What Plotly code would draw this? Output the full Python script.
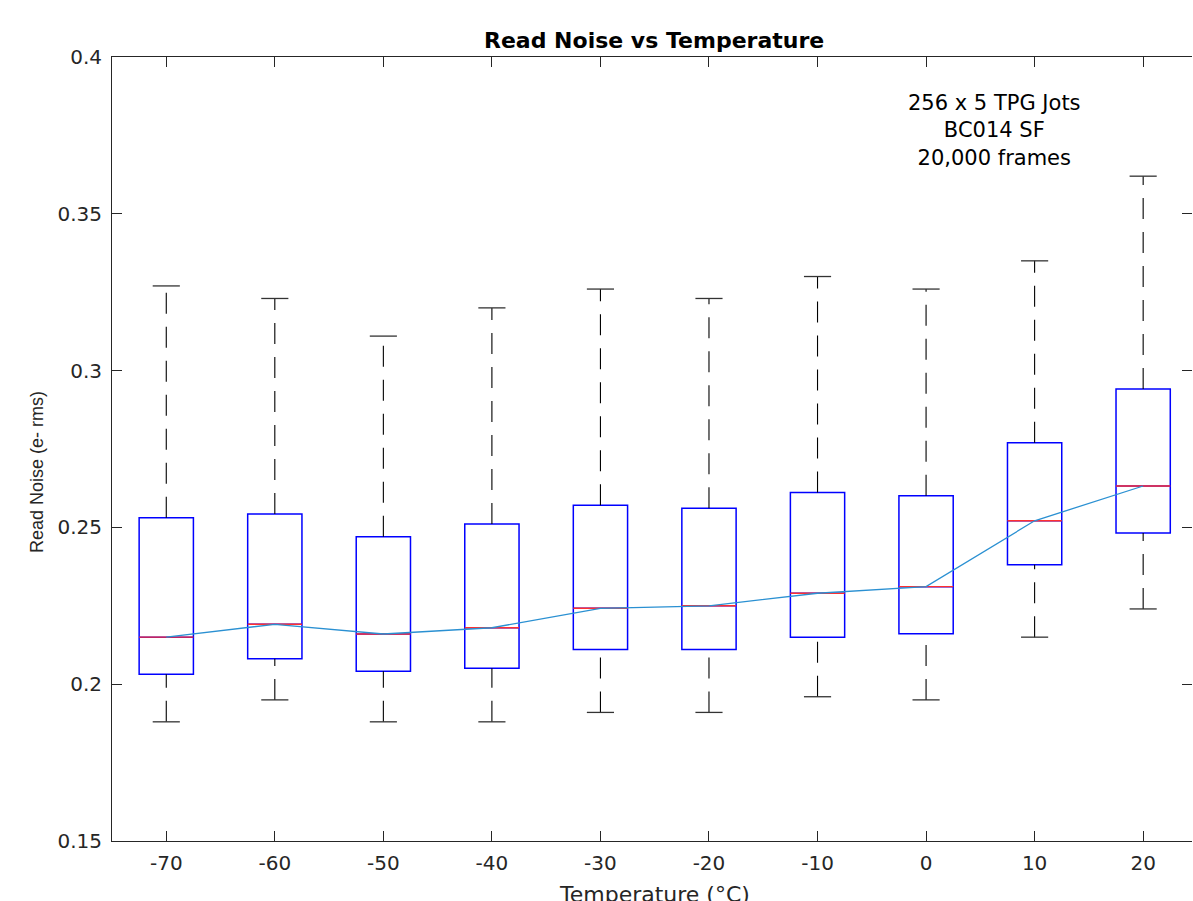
import plotly.graph_objects as go

# ---- data ----
temps = [-70, -60, -50, -40, -30, -20, -10, 0, 10, 20]
lower = [0.188, 0.195, 0.188, 0.188, 0.191, 0.191, 0.196, 0.195, 0.215, 0.224]
q1 = [0.2032, 0.2081, 0.2041, 0.2051, 0.2111, 0.2111, 0.2150, 0.2161, 0.2381, 0.2482]
median = [0.2150, 0.2191, 0.2160, 0.2180, 0.2242, 0.2250, 0.2290, 0.2311, 0.2521, 0.2632]
q3 = [0.2531, 0.2543, 0.2470, 0.2511, 0.2571, 0.2561, 0.2611, 0.2601, 0.2770, 0.2941]
upper = [0.327, 0.323, 0.311, 0.320, 0.326, 0.323, 0.330, 0.326, 0.335, 0.362]

xticks = [-70, -60, -50, -40, -30, -20, -10, 0, 10, 20]
xticklabels = ["-70", "-60", "-50", "-40", "-30", "-20", "-10", "0", "10", "20"]
yticks = [0.15, 0.2, 0.25, 0.3, 0.35, 0.4]
yticklabels = ["0.15", "0.2", "0.25", "0.3", "0.35", "0.4"]

title = "Read Noise vs Temperature"
xlabel = "Temperature (°C)"
ylabel = "Read Noise (e- rms)"
note = "256 x 5 TPG Jots<br>BC014 SF<br>20,000 frames"

BOX_W = 5.0
CAP_W = 2.5
FONT = "DejaVu Sans"
AX = "#262626"

W, H = 1193, 901
PX0, PX1, PY0, PY1 = 112, 1192, 57, 841


def px(xs):
    return (xs - PX0) / (PX1 - PX0)


def py(ys):
    return (PY1 - ys) / (PY1 - PY0)


fig = go.Figure()

# boxes
fig.add_trace(go.Box(
    x=temps, q1=q1, median=median, q3=q3,
    lowerfence=q1, upperfence=q3,
    width=BOX_W, line=dict(color="blue", width=1.5),
    fillcolor="rgba(0,0,0,0)", boxpoints=False, showlegend=False,
    hoverinfo="skip",
))

# whiskers (dashed), drawn from bottom to top
wx, wy = [], []
for t, lo, a, b, hi in zip(temps, lower, q1, q3, upper):
    wx += [t, t, None, t, t, None]
    wy += [lo, a, None, b, hi, None]
fig.add_trace(go.Scatter(x=wx, y=wy, mode="lines",
                         line=dict(color="black", width=1.1, dash="21px,13px"),
                         showlegend=False, hoverinfo="skip"))

# whisker caps
cx, cy = [], []
for t, lo, hi in zip(temps, lower, upper):
    cx += [t - CAP_W / 2, t + CAP_W / 2, None, t - CAP_W / 2, t + CAP_W / 2, None]
    cy += [lo, lo, None, hi, hi, None]
fig.add_trace(go.Scatter(x=cx, y=cy, mode="lines",
                         line=dict(color="#333333", width=1.3),
                         showlegend=False, hoverinfo="skip"))

# medians (red)
mx, my = [], []
for t, m in zip(temps, median):
    mx += [t - BOX_W / 2, t + BOX_W / 2, None]
    my += [m, m, None]
fig.add_trace(go.Scatter(x=mx, y=my, mode="lines",
                         line=dict(color="#ff3030", width=1.4),
                         showlegend=False, hoverinfo="skip"))

# line connecting medians (on overlaying axis, same range -> drawn on top)
fig.add_trace(go.Scatter(x=temps, y=median, mode="lines", yaxis="y2",
                         line=dict(color="#2a90d2", width=1.3),
                         showlegend=False, hoverinfo="skip"))

fig.update_layout(
    width=W, height=H,
    margin=dict(l=PX0, r=W - PX1, t=PY0, b=H - PY1),
    paper_bgcolor="white", plot_bgcolor="white",
    font=dict(family=FONT, size=20, color=AX),
    showlegend=False,
    xaxis=dict(range=[-75, 24.5], tickvals=xticks, ticktext=xticklabels,
               ticks="inside", ticklen=10, tickcolor=AX, tickwidth=1,
               showline=True, linecolor=AX, linewidth=1, mirror="ticks",
               showgrid=False, zeroline=False, ticklabelstandoff=4,
               automargin=False,
               tickfont=dict(family=FONT, size=20, color=AX)),
    yaxis=dict(range=[0.15, 0.4], tickvals=yticks, ticktext=yticklabels,
               ticks="inside", ticklen=10, tickcolor=AX, tickwidth=1,
               showline=True, linecolor=AX, linewidth=1, mirror=False,
               showgrid=False, zeroline=False, ticklabelstandoff=5,
               automargin=False,
               tickfont=dict(family=FONT, size=20, color=AX)),
    yaxis2=dict(range=[0.15, 0.4], tickvals=yticks, overlaying="y", side="right",
                ticks="inside", ticklen=10, tickcolor=AX, tickwidth=1,
                showline=False, showticklabels=False, showgrid=False,
                zeroline=False),
)

fig.add_annotation(text="<b>" + title + "</b>", xref="paper", yref="paper",
                   x=px(654), y=py(40), xanchor="center",
                   yanchor="middle", showarrow=False,
                   font=dict(family=FONT, size=22, color="black"))
fig.add_annotation(text=note, xref="paper", yref="paper",
                   x=px(994), y=py(130.5), xanchor="center",
                   yanchor="middle", showarrow=False, align="center",
                   font=dict(family=FONT, size=21, color="black"))
fig.add_annotation(text=xlabel, xref="paper", yref="paper",
                   x=px(654), y=py(894), xanchor="center",
                   yanchor="middle", showarrow=False,
                   font=dict(family=FONT, size=22, color=AX))
fig.add_annotation(text=ylabel, xref="paper", yref="paper", textangle=-90,
                   x=px(37), y=py(472), xanchor="center",
                   yanchor="middle", showarrow=False,
                   font=dict(family="Liberation Sans", size=18, color=AX))

fig.write_html("out.html",
               config={"displayModeBar": False},
               post_script="document.body.style.margin='0px';"
                           "document.body.style.overflow='hidden';")
